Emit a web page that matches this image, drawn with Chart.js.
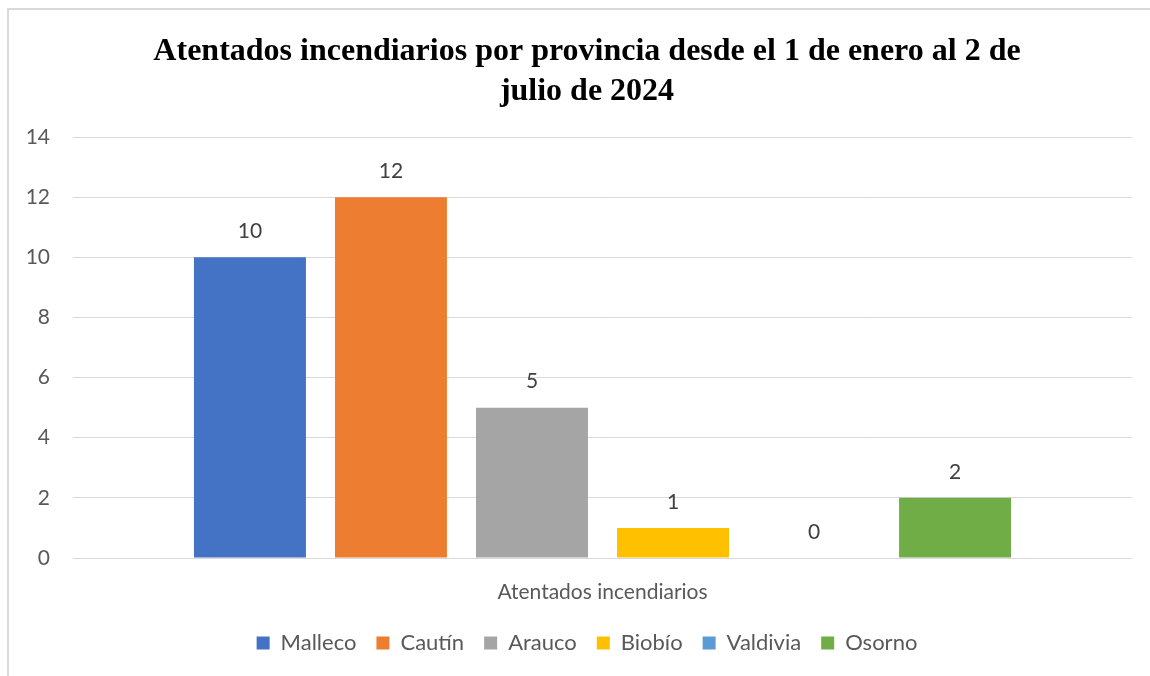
<!DOCTYPE html>
<html>
<head>
<meta charset="utf-8">
<script src="https://cdn.jsdelivr.net/npm/chart.js@4"></script>
<style>
html,body{margin:0;padding:0;background:#fff;overflow:hidden;width:1150px;height:676px;}
#wrap{position:absolute;left:7px;top:8px;width:1156px;height:666px;border-left:2px solid #d9d9d9;border-top:2px solid #d9d9d9;}
canvas{display:block;}
</style>
</head>
<body>
<div id="wrap"><canvas id="c" width="1156" height="666"></canvas></div>
<script>
const titleLines = ["Atentados incendiarios por provincia desde el 1 de enero al 2 de", "julio de 2024"];
const categories = ["Atentados incendiarios"];
const provinces = ["Malleco", "Cautín", "Arauco", "Biobío", "Valdivia", "Osorno"];
const values = [10, 12, 5, 1, 0, 2];
const colors = ["#4472C4", "#ED7D31", "#A5A5A5", "#FFC000", "#5B9BD5", "#70AD47"];
const yMin = 0, yMax = 14, yStep = 2;

const FONT = "Lato, 'Noto Sans', sans-serif";

const datasets = provinces.map((p, i) => ({
  label: p,
  data: [values[i]],
  backgroundColor: colors[i],
  borderWidth: 0,
  barPercentage: 0.794,
  categoryPercentage: 0.799
}));

const dataLabels = {
  id: 'dataLabels',
  afterDatasetsDraw(chart) {
    const ctx = chart.ctx;
    ctx.save();
    ctx.font = "21px " + FONT;
    ctx.fillStyle = "#404040";
    ctx.textAlign = "center";
    ctx.textBaseline = "middle";
    chart.data.datasets.forEach((ds, i) => {
      const meta = chart.getDatasetMeta(i);
      meta.data.forEach((el, j) => {
        ctx.fillText(String(ds.data[j]), el.x, el.y - 26);
      });
    });
    ctx.restore();
  }
};

new Chart(document.getElementById('c'), {
  type: 'bar',
  data: { labels: categories, datasets },
  plugins: [dataLabels],
  options: {
    responsive: false,
    animation: false,
    layout: { padding: { left: 0, right: 0, top: 0, bottom: 12 } },
    plugins: {
      title: {
        display: true,
        text: titleLines,
        font: { family: "'Liberation Serif', 'Times New Roman', serif", size: 32, weight: 'bold', lineHeight: 40/32 },
        color: "#000000",
        padding: { top: 22, bottom: 25 }
      },
      legend: {
        position: 'bottom',
        labels: {
          boxWidth: 13,
          boxHeight: 13,
          padding: 20,
          color: "#595959",
          font: { family: FONT, size: 22 }
        }
      },
      tooltip: { enabled: false }
    },
    scales: {
      x: {
        grid: { display: false },
        border: { display: false },
        ticks: { color: "#595959", font: { family: FONT, size: 21 }, padding: 14 },
        afterFit(s) { s.height = 54; }
      },
      y: {
        min: yMin, max: yMax,
        ticks: { stepSize: yStep, color: "#595959", font: { family: FONT, size: 21 }, padding: 23 },
        grid: { color: "#d9d9d9", lineWidth: 1, drawTicks: false },
        border: { display: false },
        afterFit(s) { s.width = 64; }
      },
      spacer: {
        type: 'linear',
        position: 'right',
        display: true,
        ticks: { display: false },
        grid: { display: false, drawTicks: false },
        border: { display: false },
        afterFit(s) { s.width = 33; }
      }
    }
  }
});
</script>
</body>
</html>
